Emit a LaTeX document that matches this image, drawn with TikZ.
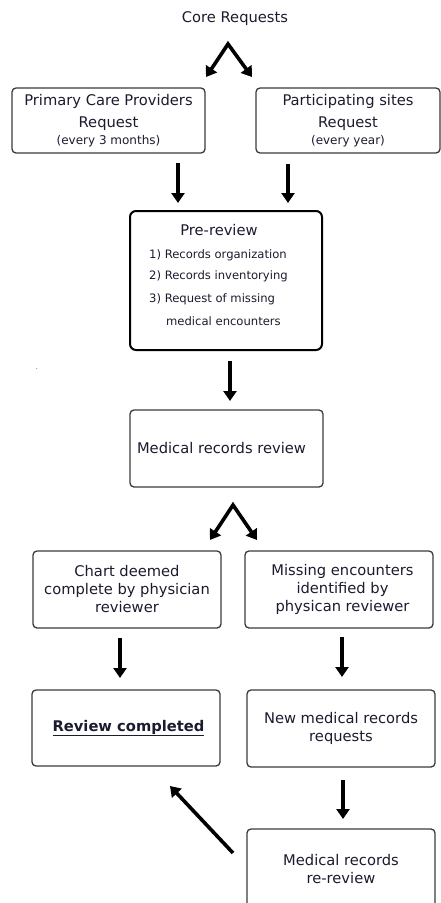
\documentclass[tikz,border=0pt]{standalone}
\usepackage{fontspec}
\setmainfont{DejaVu Sans}
\usetikzlibrary{arrows.meta}
\definecolor{txt}{HTML}{1B1B2F}
\definecolor{edgegray}{HTML}{3A3A3A}
\begin{document}
\begin{tikzpicture}[x=1pt,y=-1pt,
  box/.style={draw=edgegray, line width=1.3pt, rounded corners=4pt, inner sep=0pt,
    text=txt, font=\fontsize{14.7}{18}\selectfont, align=center},
  plain/.style={inner sep=0pt, text=txt, font=\fontsize{14.7}{18}\selectfont},
  small/.style={inner sep=0pt, text=txt, font=\fontsize{11.6}{14}\selectfont},
  bigarrow/.style={line width=3.6pt, -{Triangle[width=13pt,length=10pt]}},
  caret/.style={line width=3.6pt, line join=miter,
    {Triangle[width=13pt,length=10pt]}-{Triangle[width=13pt,length=10pt]}}]
\useasboundingbox (0,0) rectangle (441,903);

% top
\node[plain] (core) at (235,19) {Core Requests};
\coordinate (c1l) at (206,77);
\coordinate (c1a) at (228,44);
\coordinate (c1r) at (252,77);
\draw[caret] (c1l) -- (c1a) -- (c1r);

\node[box, minimum width=193, minimum height=65] (pcp) at (108.5,120.5)
  {Primary Care Providers\\[4pt] Request\\[-1pt] {\fontsize{12}{14}\selectfont (every 3 months)}};
\node[box, minimum width=184, minimum height=65] (ps) at (348,120.5)
  {Participating sites\\[4pt] Request\\[-1pt] {\fontsize{12}{14}\selectfont (every year)}};

\coordinate (a1s) at (178,163);
\coordinate (a1e) at (178,203);
\coordinate (a2s) at (288,164);
\coordinate (a2e) at (288,203);
\draw[bigarrow] (a1s) -- (a1e);
\draw[bigarrow] (a2s) -- (a2e);

% pre-review
\node[draw=black, line width=2pt, rounded corners=6pt, minimum width=192, minimum height=139, inner sep=0pt] (pre) at (226,280.5) {};
\node[plain] (pretitle) at (219,230) {Pre-review};
\node[small, anchor=west] (l1) at (149,255) {1) Records organization};
\node[small, anchor=west] (l2) at (149,276) {2) Records inventorying};
\node[small, anchor=west] (l3) at (149,299) {3) Request of missing};
\node[small, anchor=west] (l4) at (166,321) {medical encounters};

\coordinate (a3s) at (230,361);
\coordinate (a3e) at (230,401);
\draw[bigarrow] (a3s) -- (a3e);

\node[box, minimum width=193, minimum height=77] (mrr) at (226.5,448.5)
  {Medical records review\hspace*{10pt}};

\coordinate (c2l) at (210,540);
\coordinate (c2a) at (233,505);
\coordinate (c2r) at (257,540);
\draw[caret] (c2l) -- (c2a) -- (c2r);

\node[box, minimum width=188, minimum height=77] (chart) at (127,589.5)
  {\raisebox{-3.5pt}{\parbox{180pt}{\centering Chart deemed\\ complete by physician\\ reviewer}}};
\node[box, minimum width=188, minimum height=77] (miss) at (339,589.5)
  {\hspace*{7pt}Missing encounters\\ \hspace*{7pt}identified by\\ \hspace*{7pt}physican reviewer};

\coordinate (a4s) at (120,638);
\coordinate (a4e) at (120,678);
\coordinate (a5s) at (342,637);
\coordinate (a5e) at (342,677);
\draw[bigarrow] (a4s) -- (a4e);
\draw[bigarrow] (a5s) -- (a5e);

\node[box, minimum width=188, minimum height=76] (done) at (126,728)
  {\hspace*{5pt}\textbf{\underline{Review completed}}};
\node[box, minimum width=188, minimum height=77] (newreq) at (341,728.5)
  {New medical records\\ requests};

\coordinate (a6s) at (343,780);
\coordinate (a6e) at (343,819);
\draw[bigarrow] (a6s) -- (a6e);

\node[box, minimum width=188, minimum height=80] (rere) at (341,869)
  {Medical records\\ re-review};

\coordinate (d1s) at (233,853);
\coordinate (d1e) at (170,786);
\draw[bigarrow] (d1s) -- (d1e);

\node[inner sep=0pt, text=gray, font=\fontsize{8}{8}\selectfont] (dot) at (37,369) {.};
\end{tikzpicture}
\end{document}
